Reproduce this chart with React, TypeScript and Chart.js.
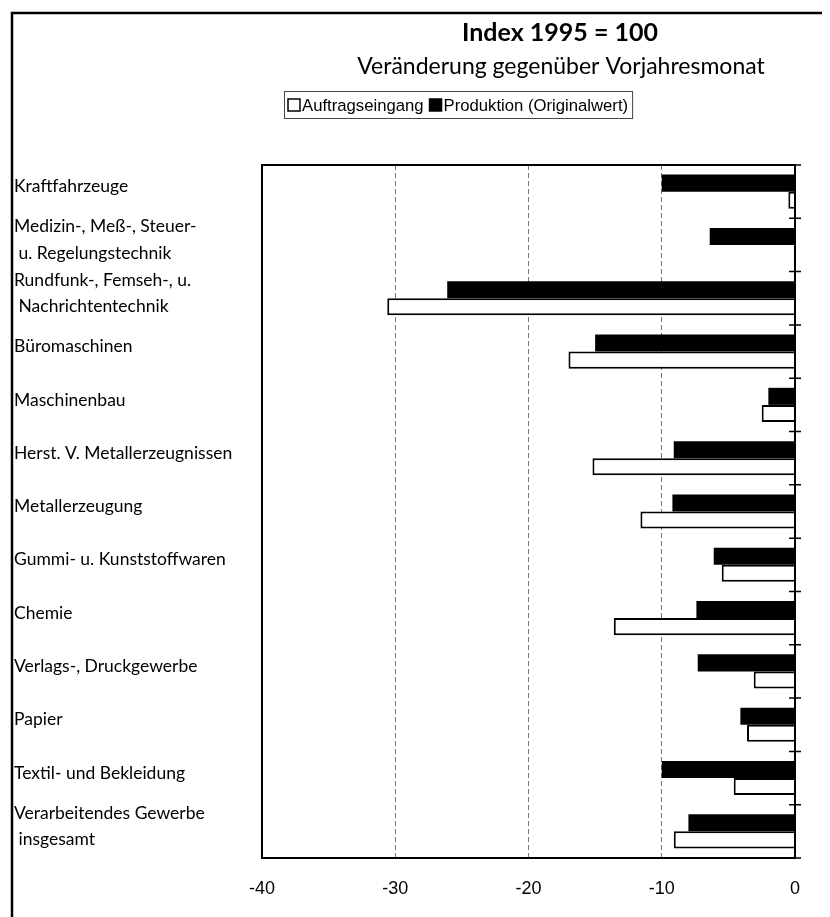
import React, { useEffect, useRef } from "react";
import { Chart, registerables } from "chart.js";

Chart.register(...registerables);

const titleText = "Index 1995 = 100";
const subtitleText = "Veränderung gegenüber Vorjahresmonat";

const categories: (string | string[])[] = [
  "Kraftfahrzeuge",
  ["Medizin-, Meß-, Steuer-", " u. Regelungstechnik"],
  ["Rundfunk-, Femseh-, u.", " Nachrichtentechnik"],
  "Büromaschinen",
  "Maschinenbau",
  "Herst. V. Metallerzeugnissen",
  "Metallerzeugung",
  "Gummi- u. Kunststoffwaren",
  "Chemie",
  "Verlags-, Druckgewerbe",
  "Papier",
  "Textil- und Bekleidung",
  ["Verarbeitendes Gewerbe", " insgesamt"],
];

const seriesNames = ["Auftragseingang", "Produktion (Originalwert)"];

const auftragseingang = [-0.5, 0, -30.6, -17.0, -2.5, -15.2, -11.6, -5.5, -13.6, -3.1, -3.6, -4.6, -9.1];
const produktion = [-10.0, -6.4, -26.1, -15.0, -2.0, -9.1, -9.2, -6.1, -7.4, -7.3, -4.1, -10.0, -8.0];

const xTicks = [-40, -30, -20, -10, 0];

const LABEL_FONT = "Lato, 'DejaVu Sans', sans-serif";
const AXIS_FONT = "'Liberation Sans', Arial, sans-serif";

const decorPlugin = {
  id: "decor",
  beforeDraw(chart: any) {
    const { ctx, width, height } = chart;
    ctx.save();
    ctx.fillStyle = "#fff";
    ctx.fillRect(0, 0, width, height);
    ctx.restore();
  },
  afterDraw(chart: any) {
    const { ctx, chartArea: a, scales } = chart;
    const x = scales.x;
    const y = scales.y;
    ctx.save();
    // outer frame (top + left)
    ctx.strokeStyle = "#000";
    ctx.lineWidth = 2.5;
    ctx.beginPath();
    ctx.moveTo(4, chart.height);
    ctx.lineTo(4, 5);
    ctx.lineTo(chart.width, 5);
    ctx.stroke();

    // plot frame
    ctx.lineWidth = 2;
    ctx.strokeRect(a.left, a.top, a.right - a.left, a.bottom - a.top);

    // value axis at 0 with crossing tick marks at category boundaries
    const x0 = x.getPixelForValue(0);
    ctx.lineWidth = 1.5;
    ctx.beginPath();
    for (let i = 0; i <= categories.length; i++) {
      const yy = y.getPixelForValue(i - 0.5);
      ctx.moveTo(x0 - 6, yy);
      ctx.lineTo(x0 + 6, yy);
    }
    ctx.stroke();

    // title & subtitle
    ctx.fillStyle = "#000";
    ctx.textAlign = "center";
    ctx.textBaseline = "middle";
    ctx.font = `bold 25px ${LABEL_FONT}`;
    ctx.fillText(titleText, 552, 25);
    ctx.font = `23px ${LABEL_FONT}`;
    ctx.fillText(subtitleText, 553, 59);

    // legend
    const ds = chart.data.datasets;
    const order = [1, 0];
    ctx.font = `16.7px ${AXIS_FONT}`;
    ctx.textAlign = "left";
    const box = 12;
    const ly = 97;
    let lx = 280;
    const startX = lx - 4;
    for (let k = 0; k < order.length; k++) {
      const d = ds[order[k]];
      ctx.fillStyle = d.backgroundColor;
      ctx.fillRect(lx, ly - box / 2, box, box);
      ctx.strokeStyle = "#000";
      ctx.lineWidth = 1.5;
      ctx.strokeRect(lx, ly - box / 2, box, box);
      lx += box + 2;
      ctx.fillStyle = "#000";
      ctx.fillText(d.label, lx, ly + 1);
      lx += ctx.measureText(d.label).width + 6;
    }
    const endX = lx - 2;
    ctx.strokeStyle = "#444";
    ctx.lineWidth = 1;
    ctx.strokeRect(startX + 0.5, ly - 13.5, endX - startX, 27);
    ctx.restore();
  },
};

export default function App() {
  const ref = useRef<HTMLCanvasElement | null>(null);

  useEffect(() => {
    if (!ref.current) return;
    const chart = new Chart(ref.current, {
      type: "bar",
      data: {
        labels: categories,
        datasets: [
          {
            label: seriesNames[1],
            data: produktion,
            backgroundColor: "#000",
            borderColor: "#000",
            borderWidth: 0,
          },
          {
            label: seriesNames[0],
            data: auftragseingang,
            backgroundColor: "#fff",
            borderColor: "#000",
            borderWidth: 2,
          },
        ],
      },
      options: {
        indexAxis: "y",
        animation: false,
        responsive: false,
        maintainAspectRatio: false,
        datasets: { bar: { barPercentage: 1, categoryPercentage: 0.64 } },
        layout: { padding: { top: 157, left: 6, right: 35, bottom: 0 } },
        plugins: {
          legend: { display: false },
          title: { display: false },
          tooltip: { enabled: false },
        },
        scales: {
          x: {
            type: "linear",
            min: -40,
            max: 0,
            afterBuildTicks: (s: any) => {
              s.ticks = xTicks.map((v) => ({ value: v }));
            },
            afterFit: (s: any) => {
              s.height = 59;
            },
            ticks: {
              color: "#000",
              padding: 20,
              font: { family: AXIS_FONT, size: 18 },
            },
            grid: {
              drawTicks: false,
              lineWidth: 1,
              color: (c: any) =>
                c.tick && (c.tick.value === -40 || c.tick.value === 0) ? "rgba(0,0,0,0)" : "#777",
            },
            border: { display: false, dash: [5, 3] },
          },
          y: {
            type: "category",
            afterFit: (s: any) => {
              s.width = 248;
            },
            ticks: {
              color: "#000",
              crossAlign: "far",
              labelOffset: -5,
              font: { family: LABEL_FONT, size: 17.5, lineHeight: 1.5 },
              autoSkip: false,
            },
            grid: { display: false },
            border: { display: false },
          },
        },
      },
      plugins: [decorPlugin],
    });
    return () => chart.destroy();
  }, []);

  return <canvas ref={ref} width={822} height={909} style={{ display: "block" }} />;
}
